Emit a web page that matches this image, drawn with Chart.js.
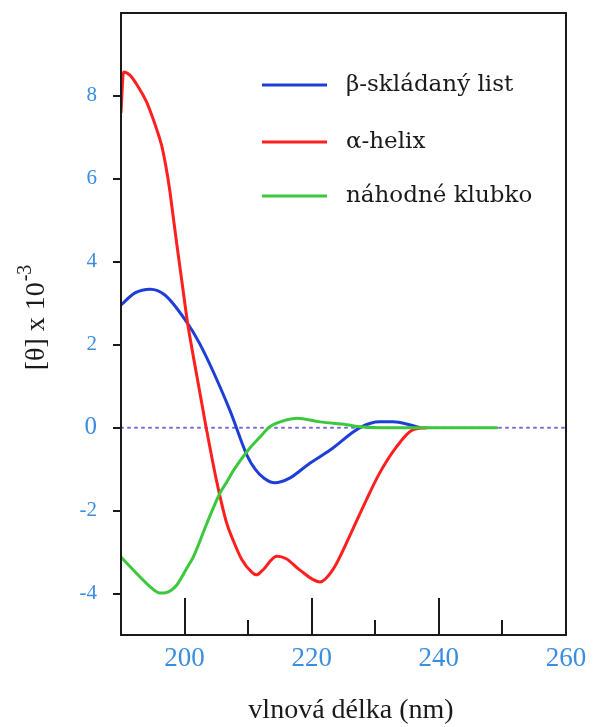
<!DOCTYPE html>
<html>
<head>
<meta charset="utf-8">
<script src="https://cdn.jsdelivr.net/npm/chart.js@4.4.1/dist/chart.umd.min.js"></script>
<style>
  html, body { margin: 0; padding: 0; background: #ffffff; }
  canvas { display: block; }
</style>
</head>
<body>
<canvas id="cd-chart" width="593" height="727"></canvas>
<script>
// Data (wavelength in nm, [theta] x 10^-3)
const betaNm = [190, 192.2, 194.6, 196.9, 200.1, 202.4, 207.1, 209.8, 211.1, 212.5, 214.2, 216.6, 219.5, 222.9, 227.6, 230.7, 232.8, 235.4, 237.0];
const betaValues = [2.96, 3.25, 3.34, 3.20, 2.60, 2.02, 0.43, -0.66, -1.0, -1.22, -1.33, -1.21, -0.88, -0.54, 0.0, 0.14, 0.14, 0.07, 0.0];

const helixNm = [190, 190.4, 191.4, 192.7, 194.0, 194.8, 195.6, 196.4, 197.0, 197.6, 198.2, 198.8, 199.6, 200.5, 201.2, 203.4, 205.0, 206.6, 207.6, 209.0, 210.6, 211.3, 212.2, 214.5, 216.0, 218.1, 221.3, 223.3, 226.4, 228.6, 230.7, 233.3, 235.8, 238.1];
const helixValues = [7.6, 8.58, 8.50, 8.22, 7.86, 7.55, 7.2, 6.8, 6.35, 5.8, 5.1, 4.4, 3.5, 2.5, 1.87, 0, -1.26, -2.29, -2.70, -3.18, -3.49, -3.55, -3.45, -3.10, -3.16, -3.43, -3.72, -3.43, -2.47, -1.74, -1.09, -0.47, -0.06, 0];

const coilNm = [190, 193.0, 194.6, 196.1, 197.0, 197.9, 198.75, 199.5, 200.3, 201.4, 203.5, 205.6, 206.6, 207.7, 209.8, 211.9, 213.4, 216.1, 217.7, 221.3, 225.5, 227.6, 230.7, 249.1];
const coilValues = [-3.12, -3.60, -3.84, -3.99, -3.98, -3.92, -3.80, -3.62, -3.40, -3.11, -2.31, -1.57, -1.32, -1.03, -0.58, -0.22, 0.02, 0.19, 0.23, 0.14, 0.07, 0.02, 0, 0];

const seriesLabels = ['β-skládaný list', 'α-helix', 'náhodné klubko'];

const xTickValues = [200, 220, 240, 260];
const xMajorInner = [200, 220, 240];
const xMinorInner = [210, 230, 250];
const yTickValues = [-4, -2, 0, 2, 4, 6, 8];

function toPoints(xs, ys) {
    return xs.map((x, i) => ({ x: x, y: ys[i] }));
}

const BLUE = '#1e3fd6';
const RED = '#ff1f1f';
const GREEN = '#3cc83c';
const TICK_BLUE = '#3a8de0';
const INK = '#1a1a1a';

// Caixa do gráfico + marcas internas no eixo x
const framePlugin = {
    id: 'frame',
    afterDraw(chart) {
        const ctx = chart.ctx;
        const a = chart.chartArea;
        const xs = chart.scales.x;
        ctx.save();
        ctx.strokeStyle = INK;
        ctx.lineWidth = 2;
        ctx.strokeRect(a.left, a.top, a.right - a.left, a.bottom - a.top);
        ctx.beginPath();
        xMajorInner.forEach(v => {
            const px = Math.round(xs.getPixelForValue(v));
            ctx.moveTo(px, a.bottom);
            ctx.lineTo(px, a.bottom - 37);
        });
        xMinorInner.forEach(v => {
            const px = Math.round(xs.getPixelForValue(v));
            ctx.moveTo(px, a.bottom);
            ctx.lineTo(px, a.bottom - 15);
        });
        ctx.stroke();
        ctx.restore();
    }
};

// Legenda dentro da área + títulos dos eixos
const labelsPlugin = {
    id: 'labels',
    afterDraw(chart) {
        const ctx = chart.ctx;
        ctx.save();

        // legend
        const rows = [85, 142, 196];
        ctx.font = '23px "DejaVu Serif"';
        ctx.textBaseline = 'middle';
        ctx.textAlign = 'left';
        for (let i = 0; i < 3; i++) {
            const ds = chart.data.datasets[i];
            ctx.strokeStyle = ds.borderColor;
            ctx.lineWidth = 3;
            ctx.beginPath();
            ctx.moveTo(262, rows[i]);
            ctx.lineTo(327, rows[i]);
            ctx.stroke();
            ctx.fillStyle = INK;
            ctx.fillText(ds.label, 346, rows[i]);
        }

        // x title
        ctx.font = '28px "Liberation Serif"';
        ctx.textAlign = 'center';
        ctx.fillStyle = INK;
        ctx.fillText('vlnová délka (nm)', 351, 711);

        // y title with superscript
        ctx.translate(37, 318);
        ctx.rotate(-Math.PI / 2);
        const main = '[θ] x 10';
        const sup = '-3';
        ctx.font = '28px "Liberation Serif"';
        const w1 = ctx.measureText(main).width;
        ctx.font = '20px "Liberation Serif"';
        const w2 = ctx.measureText(sup).width;
        const start = -(w1 + w2) / 2;
        ctx.textAlign = 'left';
        ctx.font = '28px "Liberation Serif"';
        ctx.fillText(main, start, 0);
        ctx.font = '20px "Liberation Serif"';
        ctx.fillText(sup, start + w1 + 1, -11);
        ctx.restore();
    }
};

const ctx = document.getElementById('cd-chart');
new Chart(ctx, {
    type: 'line',
    data: {
        datasets: [
            {
                label: seriesLabels[0],
                data: toPoints(betaNm, betaValues),
                borderColor: BLUE,
                borderWidth: 3,
                order: 2
            },
            {
                label: seriesLabels[1],
                data: toPoints(helixNm, helixValues),
                borderColor: RED,
                borderWidth: 3,
                order: 1
            },
            {
                label: seriesLabels[2],
                data: toPoints(coilNm, coilValues),
                borderColor: GREEN,
                borderWidth: 3,
                order: 0
            },
            {
                label: 'zero',
                data: [{ x: 190, y: 0 }, { x: 260, y: 0 }],
                borderColor: '#7a6ae0',
                borderWidth: 2,
                borderDash: [2, 5],
                order: 3
            }
        ]
    },
    options: {
        responsive: false,
        animation: false,
        devicePixelRatio: 1,
        layout: {
            padding: { top: 13, right: 27, bottom: 0, left: 0 }
        },
        elements: {
            point: { radius: 0 },
            line: { cubicInterpolationMode: 'monotone', fill: false, borderCapStyle: 'round' }
        },
        plugins: {
            legend: { display: false },
            tooltip: { enabled: false }
        },
        scales: {
            x: {
                type: 'linear',
                min: 190,
                max: 260,
                afterBuildTicks: (scale) => {
                    scale.ticks = xTickValues.map(v => ({ value: v }));
                },
                afterFit: (scale) => {
                    scale.height = 92;
                    scale.paddingLeft = 0;
                    scale.paddingRight = 0;
                },
                grid: { display: false },
                border: { display: false },
                ticks: {
                    color: TICK_BLUE,
                    font: { family: 'Liberation Serif', size: 27 },
                    padding: 0,
                    maxRotation: 0
                }
            },
            y: {
                type: 'linear',
                min: -5,
                max: 10,
                afterBuildTicks: (scale) => {
                    scale.ticks = yTickValues.map(v => ({ value: v }));
                },
                afterFit: (scale) => {
                    scale.width = 121;
                    scale.paddingTop = 0;
                    scale.paddingBottom = 0;
                },
                grid: {
                    drawOnChartArea: false,
                    drawTicks: true,
                    tickLength: 8,
                    color: INK,
                    lineWidth: 2
                },
                border: { display: false },
                ticks: {
                    color: TICK_BLUE,
                    font: (c) => ({ family: 'Liberation Serif', size: c.tick && c.tick.value === 0 ? 25 : 21 }),
                    padding: 16
                }
            }
        }
    },
    plugins: [framePlugin, labelsPlugin]
});
</script>
</body>
</html>
